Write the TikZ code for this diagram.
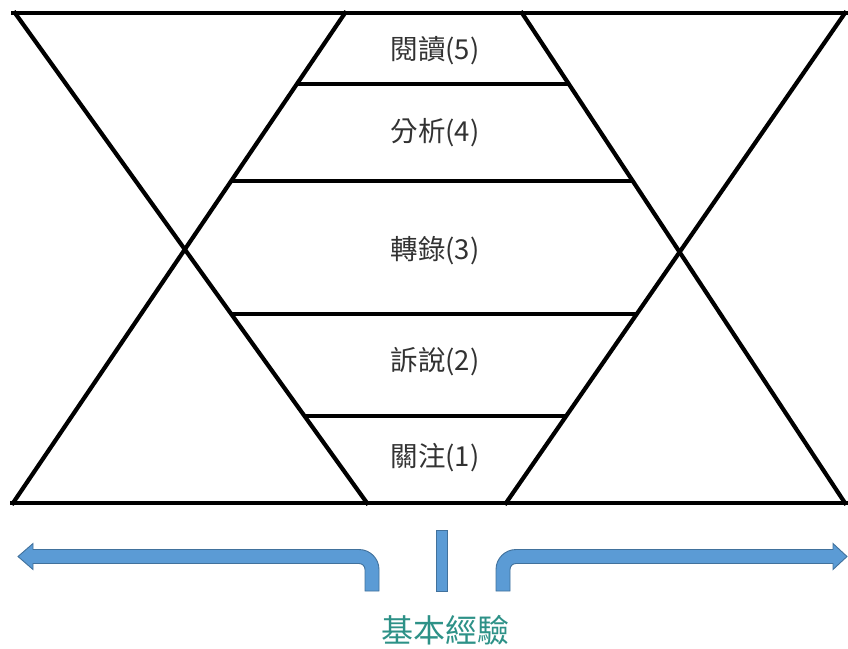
\documentclass[tikz,border=0pt]{standalone}
\usepackage{fontspec}
\newfontfamily\cjk{Noto Sans CJK TC}
\usetikzlibrary{calc}
\definecolor{arrowfill}{RGB}{91,155,213}
\definecolor{arrowedge}{RGB}{65,113,156}
\definecolor{labelgray}{RGB}{50,50,50}
\definecolor{tealtext}{RGB}{45,145,135}
\tikzset{
  frame/.style={line width=4.2pt, line join=miter, line cap=rect, black},
  band/.style={line width=4.2pt, black},
  stage/.style={font=\cjk\fontsize{27.5}{30}\selectfont, text=labelgray, inner sep=0pt, anchor=center},
  basic/.style={font=\cjk\fontsize{32}{36}\selectfont, text=tealtext, inner sep=0pt, anchor=center},
  bluearrow/.style={fill=arrowfill, draw=arrowedge, line width=0.9pt, line join=miter}
}
\begin{document}
\begin{tikzpicture}[x=1pt,y=-1pt]
\useasboundingbox (0,0) rectangle (848,648);
% corners
\coordinate (TLo) at (13,13);
\coordinate (TRo) at (846,13);
\coordinate (BLo) at (12,503);
\coordinate (BRo) at (846,503);
\coordinate (A1) at (15,13);   \coordinate (A2) at (367,503);
\coordinate (B1) at (345,13);  \coordinate (B2) at (13,503);
\coordinate (C1) at (522,13);  \coordinate (C2) at (845,503);
\coordinate (D1) at (845,13);  \coordinate (D2) at (506,503);
% outer lines
\draw[frame] (TLo) -- (TRo);
\draw[frame] (BLo) -- (BRo);
\draw[frame] (A1) -- (A2);
\draw[frame] (B1) -- (B2);
\draw[frame] (C1) -- (C2);
\draw[frame] (D1) -- (D2);
% band lines
\draw[band] ($(B1)!{(84-13)/490}!(B2)$) -- ($(C1)!{(84-13)/490}!(C2)$);
\draw[band] ($(B1)!{(181-13)/490}!(B2)$) -- ($(C1)!{(181-13)/490}!(C2)$);
\draw[band] ($(A1)!{(314-13)/490}!(A2)$) -- ($(D1)!{(314-13)/490}!(D2)$);
\draw[band] ($(A1)!{(416-13)/490}!(A2)$) -- ($(D1)!{(416-13)/490}!(D2)$);
% labels
\node[stage] (l5) at (435,51) {閱讀(5)};
\node[stage] (l4) at (435,133) {分析(4)};
\node[stage] (l3) at (435,251) {轉錄(3)};
\node[stage] (l2) at (435,362) {訴說(2)};
\node[stage] (l1) at (435,458) {關注(1)};
% arrows
\draw[bluearrow] (18,556.5) -- (33,543.5) -- (33,549.5) -- (359,549.5)
  arc[start angle=270, end angle=360, radius=20] -- (379,591) -- (365,591) -- (365,569.5)
  arc[start angle=360, end angle=270, radius=6] -- (33,563.5) -- (33,569.5) -- cycle;
\draw[bluearrow] (496,591) -- (496,569.5)
  arc[start angle=180, end angle=270, radius=20] -- (833,549.5) -- (833,543.5) -- (847,556.5)
  -- (833,569.5) -- (833,563.5) -- (516,563.5)
  arc[start angle=270, end angle=180, radius=6] -- (510,591) -- cycle;
\draw[bluearrow] (436,530) rectangle (447,591);
\node[basic] (base) at (445,630) {基本經驗};
\end{tikzpicture}
\end{document}
